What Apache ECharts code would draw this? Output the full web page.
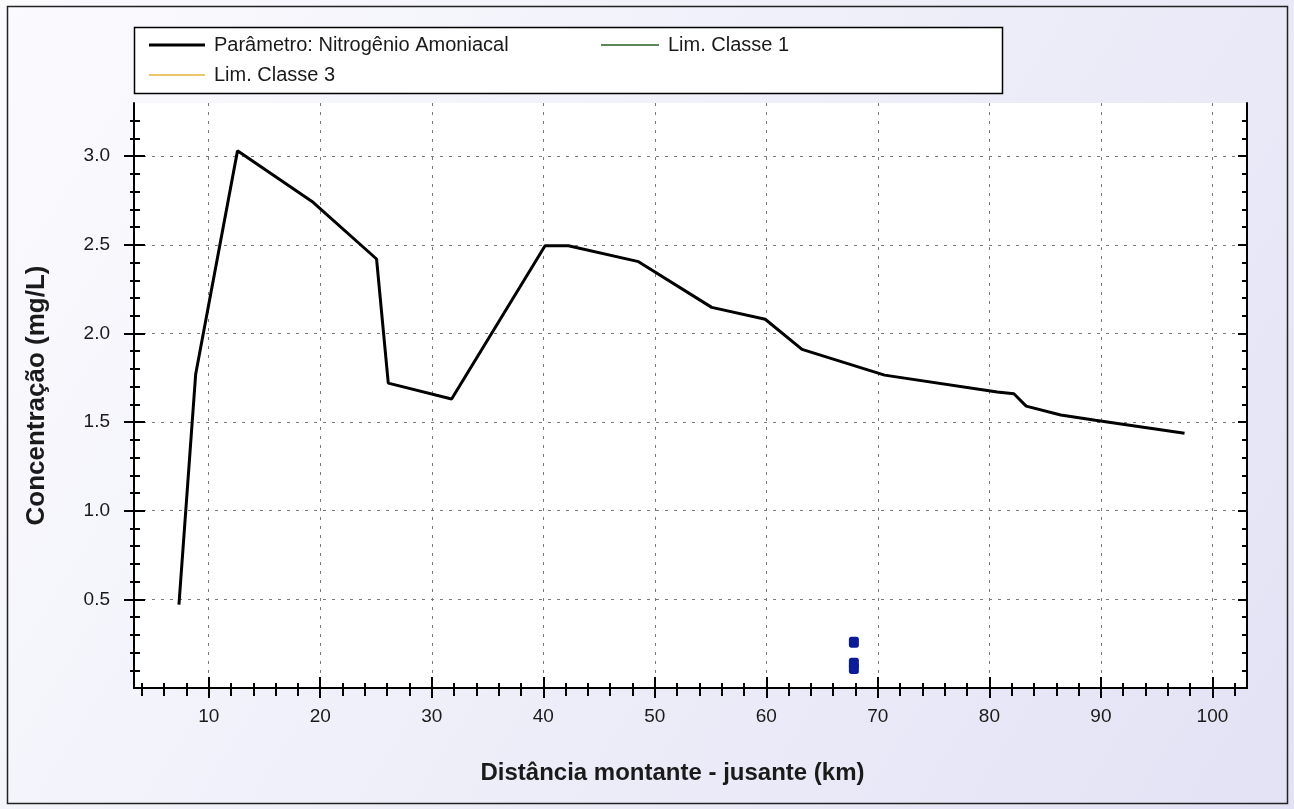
<!DOCTYPE html>
<html>
<head>
<meta charset="utf-8">
<script src="https://cdn.jsdelivr.net/npm/echarts@6/dist/echarts.min.js"></script>
<style>
html,body{margin:0;padding:0;background:#fff;}
#chart{width:1294px;height:809px;}
</style>
</head>
<body>
<div id="chart"></div>
<script>
// ---- data ----
const distKm = [7.33, 8.83, 12.58, 19.36, 25.05, 26.1, 31.78, 40.16, 42.25, 48.54, 55.1, 59.9, 63.2, 70.6, 80.7, 82.2, 83.3, 86.4, 89.5, 97.5];
const nh3 = [0.47, 1.77, 3.03, 2.74, 2.42, 1.72, 1.63, 2.495, 2.495, 2.405, 2.147, 2.08, 1.91, 1.765, 1.67, 1.66, 1.59, 1.54, 1.51, 1.437];
const obsKm = [67.85, 67.85, 67.85];
const obsVal = [0.258, 0.14, 0.11];
const lim1Km = [];
const lim1Val = [];
const lim3Km = [];
const lim3Val = [];
const xTickLabels = [10, 20, 30, 40, 50, 60, 70, 80, 90, 100];
const yTickLabels = [0.5, 1.0, 1.5, 2.0, 2.5, 3.0];
const seriesNames = ['Parâmetro: Nitrogênio Amoniacal', 'Lim. Classe 1', 'Lim. Classe 3'];
const xTitle = 'Distância montante - jusante (km)';
const yTitle = 'Concentração (mg/L)';

const X_MIN = 3.3, X_MAX = 103.1, Y_MIN = 0, Y_MAX = 3.3;

const xMinor = [];
for (let v = 4; v < X_MAX; v += 2) { if (v % 10 !== 0) xMinor.push(v); }
const yMinor = [];
for (let k = 1; k < 33; k++) { if (k % 5 !== 0) yMinor.push(k / 10); }

const zip = (a, b) => a.map((v, i) => [v, b[i]]);

const FONT = 'Liberation Sans, Arial, sans-serif';

function xAx(pos, ticks, inside, len, opts) {
  return Object.assign({
    type: 'value', position: pos, min: X_MIN, max: X_MAX,
    axisLine: { show: false },
    axisTick: { show: true, customValues: ticks, inside: inside, length: len, lineStyle: { color: '#000', width: 2 } },
    axisLabel: { show: false },
    splitLine: { show: false }
  }, opts || {});
}
function yAx(pos, ticks, inside, len, opts) {
  return Object.assign({
    type: 'value', position: pos, min: Y_MIN, max: Y_MAX,
    axisLine: { show: false },
    axisTick: { show: true, customValues: ticks, inside: inside, length: len, lineStyle: { color: '#000', width: 2 } },
    axisLabel: { show: false },
    splitLine: { show: false }
  }, opts || {});
}

const grid = { left: 134, top: 103, right: 47, bottom: 121, show: true, backgroundColor: '#ffffff', borderWidth: 0 };

const gridLine = { show: true, lineStyle: { color: '#7a7a7a', width: 1, type: [3, 6] } };

const legendText = { fontSize: 20, color: '#1a1a1a', fontFamily: FONT };

const option = {
  animation: false,
  textStyle: { fontFamily: FONT },
  graphic: [
    { type: 'rect', z: -10, shape: { x: 0, y: 0, width: 1294, height: 809 },
      style: { fill: { type: 'linear', x: 0, y: 0, x2: 1, y2: 1, colorStops: [{ offset: 0, color: '#fbfbfe' }, { offset: 1, color: '#e2e2f5' }] } } },
    { type: 'rect', z: -9, shape: { x: 7.5, y: 6.5, width: 1280, height: 797 }, style: { fill: null, stroke: '#222', lineWidth: 1.5 } },
    { type: 'rect', z: 1, shape: { x: 134.5, y: 27.5, width: 868, height: 66 }, style: { fill: '#ffffff', stroke: '#000', lineWidth: 1.5 } }
  ],
  grid: grid,
  legend: [
    { data: [seriesNames[0]], left: 144, top: 30, icon: 'rect', itemWidth: 56, itemHeight: 3, itemGap: 0, z: 5,
      textStyle: Object.assign({ padding: [0, 0, 0, 4] }, legendText) },
    { data: [seriesNames[1]], left: 596, top: 30, icon: 'rect', itemWidth: 58, itemHeight: 1.5, itemGap: 0, z: 5,
      textStyle: Object.assign({ padding: [0, 0, 0, 4] }, legendText) },
    { data: [seriesNames[2]], left: 144, top: 60, icon: 'rect', itemWidth: 56, itemHeight: 1.5, itemGap: 0, z: 5,
      textStyle: Object.assign({ padding: [0, 0, 0, 4] }, legendText) }
  ],
  xAxis: [
    xAx('bottom', xTickLabels, false, 10, {
      axisLine: { show: true, lineStyle: { color: '#000', width: 2 } },
      axisLabel: { show: true, customValues: xTickLabels, fontSize: 19, color: '#1a1a1a', margin: 19, fontFamily: FONT },
      splitLine: gridLine,
      name: xTitle, nameLocation: 'middle', nameGap: 73,
      nameTextStyle: { fontSize: 24, fontWeight: 'bold', color: '#1a1a1a', fontFamily: FONT, padding: [0, 36, 0, 0] }
    }),
    xAx('bottom', xTickLabels, true, 11),
    xAx('bottom', xMinor, false, 8),
    xAx('bottom', xMinor, true, 5),
    xAx('top', xTickLabels, true, 10, { axisLine: { show: true, lineStyle: { color: '#000', width: 2 } } }),
    xAx('top', xMinor, true, 5)
  ],
  yAxis: [
    yAx('left', yTickLabels, false, 10, {
      axisLine: { show: true, lineStyle: { color: '#000', width: 2 } },
      axisLabel: { show: true, customValues: yTickLabels, fontSize: 19, color: '#1a1a1a', margin: 24, fontFamily: FONT,
        formatter: v => v.toFixed(1) },
      splitLine: gridLine,
      name: yTitle, nameLocation: 'middle', nameGap: 84, nameRotate: 90,
      nameTextStyle: { fontSize: 26, fontWeight: 'bold', color: '#1a1a1a', fontFamily: FONT }
    }),
    yAx('left', yTickLabels, true, 11),
    yAx('left', yMinor, false, 4),
    yAx('left', yMinor, true, 6),
    yAx('right', yTickLabels, true, 9, { axisLine: { show: true, lineStyle: { color: '#000', width: 2 } } }),
    yAx('right', yMinor, true, 5)
  ],
  series: [
    { name: seriesNames[0], type: 'line', xAxisIndex: 0, yAxisIndex: 0, data: zip(distKm, nh3),
      symbol: 'none', lineStyle: { color: '#000', width: 3 }, itemStyle: { color: '#000' }, z: 4 },
    { name: seriesNames[1], type: 'line', xAxisIndex: 0, yAxisIndex: 0, data: zip(lim1Km, lim1Val),
      symbol: 'none', lineStyle: { color: '#245f24', width: 1.5 }, itemStyle: { color: '#245f24' } },
    { name: seriesNames[2], type: 'line', xAxisIndex: 0, yAxisIndex: 0, data: zip(lim3Km, lim3Val),
      symbol: 'none', lineStyle: { color: '#e3b53a', width: 1.5 }, itemStyle: { color: '#e3b53a' } },
    { name: 'Observado', type: 'scatter', xAxisIndex: 0, yAxisIndex: 0, data: zip(obsKm, obsVal),
      symbol: 'roundRect', symbolSize: [10, 11], itemStyle: { color: '#0c1c96', opacity: 1 }, z: 5 }
  ]
};

const chart = echarts.init(document.getElementById('chart'), null, { renderer: 'canvas' });
chart.setOption(option);
</script>
</body>
</html>
